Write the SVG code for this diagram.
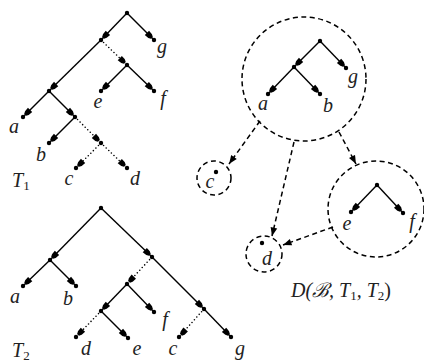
<svg xmlns="http://www.w3.org/2000/svg" width="424" height="362" viewBox="0 0 424 362">
<style>
.e{stroke:#000;stroke-width:1.4;fill:none;marker-end:url(#t)}
.dt{stroke:#000;stroke-width:1.6;fill:none;stroke-dasharray:0 3.6;stroke-linecap:round;marker-end:url(#t)}
.da{stroke:#000;stroke-width:1.5;fill:none;stroke-dasharray:5 3.5;marker-end:url(#h)}
.c{stroke:#000;stroke-width:1.5;fill:none;stroke-dasharray:5 3.5}
.n{fill:#000}
text{font-family:"Liberation Serif","Times New Roman",serif;font-style:italic;font-size:20px;fill:#222;text-anchor:middle}
.s{font-size:13px;font-style:normal}
</style>
<defs>
<marker id="t" markerUnits="userSpaceOnUse" markerWidth="14" markerHeight="10" viewBox="-12 -5 14 10" refX="0" refY="0" orient="auto">
<path d="M-10,-3 L-5.5,-2.6 L-3,-1.3 L-3,1.3 L-5.5,2.6 L-10,3 Z" fill="#000"/>
</marker>
<marker id="h" markerUnits="userSpaceOnUse" markerWidth="10" markerHeight="8" viewBox="-9 -4 10 8" refX="0" refY="0" orient="auto">
<path d="M-8.5,-3.4 L0,0 L-8.5,3.4 Z" fill="#000"/>
</marker>
</defs>
<g id="connectors">
<line class="e" x1="127" y1="13" x2="101" y2="40"/>
<line class="e" x1="127" y1="13" x2="154" y2="40"/>
<line class="e" x1="101" y1="40" x2="49" y2="91"/>
<line class="dt" x1="101" y1="40" x2="127" y2="65"/>
<line class="e" x1="127" y1="65" x2="101" y2="91"/>
<line class="e" x1="127" y1="65" x2="154" y2="91"/>
<line class="e" x1="49" y1="91" x2="23" y2="117"/>
<line class="e" x1="49" y1="91" x2="75" y2="117"/>
<line class="e" x1="75" y1="117" x2="49" y2="143"/>
<line class="dt" x1="75" y1="117" x2="101" y2="143"/>
<line class="dt" x1="101" y1="143" x2="76" y2="168"/>
<line class="dt" x1="101" y1="143" x2="127" y2="168"/>
<line class="e" x1="101" y1="208" x2="50" y2="260"/>
<line class="e" x1="101" y1="208" x2="152" y2="257"/>
<line class="e" x1="50" y1="260" x2="23" y2="286"/>
<line class="e" x1="50" y1="260" x2="76" y2="286"/>
<line class="e" x1="152" y1="257" x2="204" y2="309"/>
<line class="dt" x1="152" y1="257" x2="127" y2="284"/>
<line class="e" x1="204" y1="309" x2="231" y2="337"/>
<line class="dt" x1="204" y1="309" x2="179" y2="337"/>
<line class="e" x1="127" y1="284" x2="101" y2="311"/>
<line class="e" x1="127" y1="284" x2="154" y2="312"/>
<line class="dt" x1="101" y1="311" x2="76" y2="337"/>
<line class="e" x1="101" y1="311" x2="128" y2="338"/>
<line class="e" x1="320" y1="41" x2="294" y2="67"/>
<line class="e" x1="320" y1="41" x2="346" y2="68"/>
<line class="e" x1="294" y1="67" x2="268" y2="94"/>
<line class="e" x1="294" y1="67" x2="320" y2="94"/>
<line class="e" x1="377" y1="185" x2="351" y2="212"/>
<line class="e" x1="377" y1="185" x2="403" y2="213"/>
<line class="da" x1="260" y1="121" x2="229" y2="164"/>
<line class="da" x1="294" y1="142" x2="272" y2="236"/>
<line class="da" x1="339" y1="132" x2="356" y2="164"/>
<line class="da" x1="333" y1="227" x2="283" y2="245"/>
</g>
<g id="T1">
<g id="t1-root"><circle class="n" cx="127" cy="13" r="2.2"/></g>
<g id="t1-x"><circle class="n" cx="101" cy="40" r="2.2"/></g>
<g id="t1-z"><circle class="n" cx="127" cy="65" r="2.2"/></g>
<g id="t1-y"><circle class="n" cx="49" cy="91" r="2.2"/></g>
<g id="t1-w"><circle class="n" cx="75" cy="117" r="2.2"/></g>
<g id="t1-v"><circle class="n" cx="101" cy="143" r="2.2"/></g>
<g id="t1-g"><circle class="n" cx="154" cy="40" r="2.2"/><text x="162" y="53">g</text></g>
<g id="t1-e"><circle class="n" cx="101" cy="91" r="2.2"/><text x="98" y="108">e</text></g>
<g id="t1-f"><circle class="n" cx="154" cy="91" r="2.2"/><text x="163" y="105">f</text></g>
<g id="t1-a"><circle class="n" cx="23" cy="117" r="2.2"/><text x="14" y="133">a</text></g>
<g id="t1-b"><circle class="n" cx="49" cy="143" r="2.2"/><text x="41" y="161">b</text></g>
<g id="t1-c"><circle class="n" cx="76" cy="168" r="2.2"/><text x="69" y="185">c</text></g>
<g id="t1-d"><circle class="n" cx="127" cy="168" r="2.2"/><text x="135" y="185">d</text></g>
<g id="t1-label"><text x="12" y="187" style="text-anchor:start">T<tspan class="s" dy="3">1</tspan></text></g>
</g>
<g id="T2">
<g id="t2-root"><circle class="n" cx="101" cy="208" r="2.2"/></g>
<g id="t2-l"><circle class="n" cx="50" cy="260" r="2.2"/></g>
<g id="t2-p"><circle class="n" cx="152" cy="257" r="2.2"/></g>
<g id="t2-q"><circle class="n" cx="204" cy="309" r="2.2"/></g>
<g id="t2-r"><circle class="n" cx="127" cy="284" r="2.2"/></g>
<g id="t2-s"><circle class="n" cx="101" cy="311" r="2.2"/></g>
<g id="t2-a"><circle class="n" cx="23" cy="286" r="2.2"/><text x="15" y="303">a</text></g>
<g id="t2-b"><circle class="n" cx="76" cy="286" r="2.2"/><text x="68" y="305">b</text></g>
<g id="t2-f"><circle class="n" cx="154" cy="312" r="2.2"/><text x="165" y="326">f</text></g>
<g id="t2-d"><circle class="n" cx="76" cy="337" r="2.2"/><text x="86" y="355">d</text></g>
<g id="t2-e"><circle class="n" cx="128" cy="338" r="2.2"/><text x="137" y="355">e</text></g>
<g id="t2-c"><circle class="n" cx="179" cy="337" r="2.2"/><text x="173" y="355">c</text></g>
<g id="t2-g"><circle class="n" cx="231" cy="337" r="2.2"/><text x="240" y="355">g</text></g>
<g id="t2-label"><text x="12" y="357" style="text-anchor:start">T<tspan class="s" dy="3">2</tspan></text></g>
</g>
<g id="D">
<g id="d-abg">
<circle class="c" cx="304" cy="79" r="62"/>
<circle class="n" cx="320" cy="41" r="2.2"/>
<circle class="n" cx="294" cy="67" r="2.2"/>
<circle class="n" cx="346" cy="68" r="2.2"/>
<circle class="n" cx="268" cy="94" r="2.2"/>
<circle class="n" cx="320" cy="94" r="2.2"/>
<text x="263" y="110">a</text><text x="328" y="112">b</text><text x="353" y="83">g</text>
</g>
<g id="d-c">
<circle class="c" cx="214" cy="178" r="17"/>
<circle class="n" cx="216" cy="172" r="2.2"/>
<text x="210" y="188">c</text>
</g>
<g id="d-ef">
<circle class="c" cx="376" cy="209" r="48"/>
<circle class="n" cx="377" cy="185" r="2.2"/>
<circle class="n" cx="351" cy="212" r="2.2"/>
<circle class="n" cx="403" cy="213" r="2.2"/>
<text x="347" y="230">e</text><text x="412" y="228">f</text>
</g>
<g id="d-d">
<circle class="c" cx="264" cy="254" r="18"/>
<circle class="n" cx="262" cy="243" r="2.2"/>
<text x="267" y="265">d</text>
</g>
<g id="d-label"><text x="341" y="297">D(ℬ, T<tspan class="s" dy="3">1</tspan><tspan dy="-3">, T</tspan><tspan class="s" dy="3">2</tspan><tspan dy="-3" style="font-style:normal">)</tspan></text></g>
</g>
</svg>
